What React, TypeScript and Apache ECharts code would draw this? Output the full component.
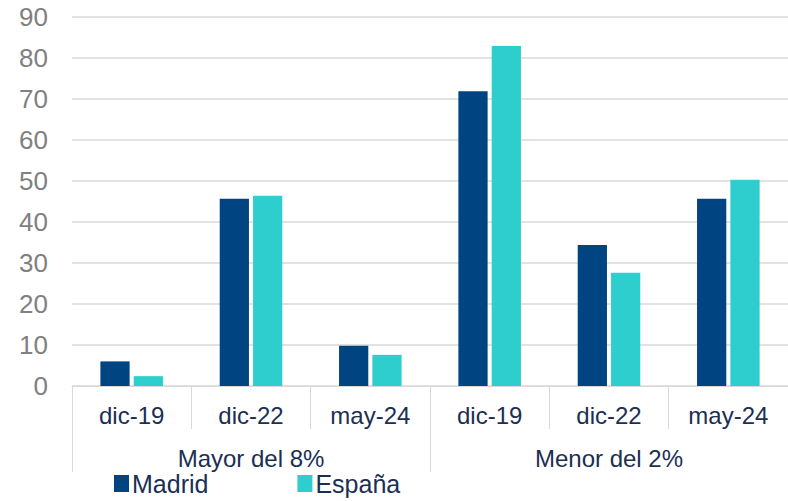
import React, { useEffect, useRef } from "react";
import * as echarts from "echarts";

const periods = ["dic-19", "dic-22", "may-24", "dic-19", "dic-22", "may-24"];
const groups = ["Mayor del 8%", "Menor del 2%"];
const madrid = [6, 45.7, 9.8, 71.9, 34.4, 45.7];
const espana = [2.4, 46.4, 7.6, 82.9, 27.6, 50.3];
const yTicks = { min: 0, max: 90, interval: 10 };

const FONT = "Arial, 'Liberation Sans', sans-serif";
const NAVY = "#1b2f52";

export default function App() {
  const ref = useRef<HTMLDivElement>(null);
  useEffect(() => {
    if (!ref.current) return;
    const chart = echarts.init(ref.current, undefined, { renderer: "svg" });
    chart.setOption({
      animation: false,
      backgroundColor: "#ffffff",
      grid: { left: 72, right: 0, top: 17, bottom: 115, containLabel: false },
      legend: {
        left: 114,
        top: 471,
        padding: 0,
        itemWidth: 15,
        itemHeight: 17,
        itemGap: 89,
        icon: "rect",
        textStyle: { fontFamily: FONT, fontSize: 25, color: NAVY, padding: [0, 0, 0, -2] },
        data: ["Madrid", "España"],
      },
      xAxis: [
        {
          type: "category",
          data: periods,
          position: "bottom",
          axisLine: { show: true, lineStyle: { color: "#d9d9d9", width: 1 } },
          axisTick: { show: true, length: 43, lineStyle: { color: "#d9d9d9" } },
          axisLabel: { fontFamily: FONT, fontSize: 24, color: NAVY, margin: 17 },
        },
        {
          type: "category",
          data: groups,
          position: "bottom",
          offset: 0,
          axisLine: { show: false },
          axisTick: { show: true, length: 86, lineStyle: { color: "#d9d9d9" } },
          axisLabel: { fontFamily: FONT, fontSize: 24, color: NAVY, margin: 60 },
        },
      ],
      yAxis: {
        type: "value",
        min: yTicks.min,
        max: yTicks.max,
        interval: yTicks.interval,
        axisLine: { show: false },
        axisTick: { show: false },
        axisLabel: { fontFamily: FONT, fontSize: 26, color: "#808080", margin: 24 },
        splitLine: { lineStyle: { color: "#d9d9d9", width: 1.5 } },
      },
      series: [
        {
          name: "Madrid",
          type: "bar",
          xAxisIndex: 0,
          data: madrid,
          barWidth: "24.5%",
          barGap: "14%",
          itemStyle: { color: "#004481" },
        },
        {
          name: "España",
          type: "bar",
          xAxisIndex: 0,
          data: espana,
          barWidth: "24.5%",
          barGap: "14%",
          itemStyle: { color: "#2ecece" },
        },
      ],
    });
    return () => chart.dispose();
  }, []);
  return (
    <div
      ref={ref}
      style={{ position: "absolute", left: 0, top: 0, width: 788, height: 501 }}
    />
  );
}
